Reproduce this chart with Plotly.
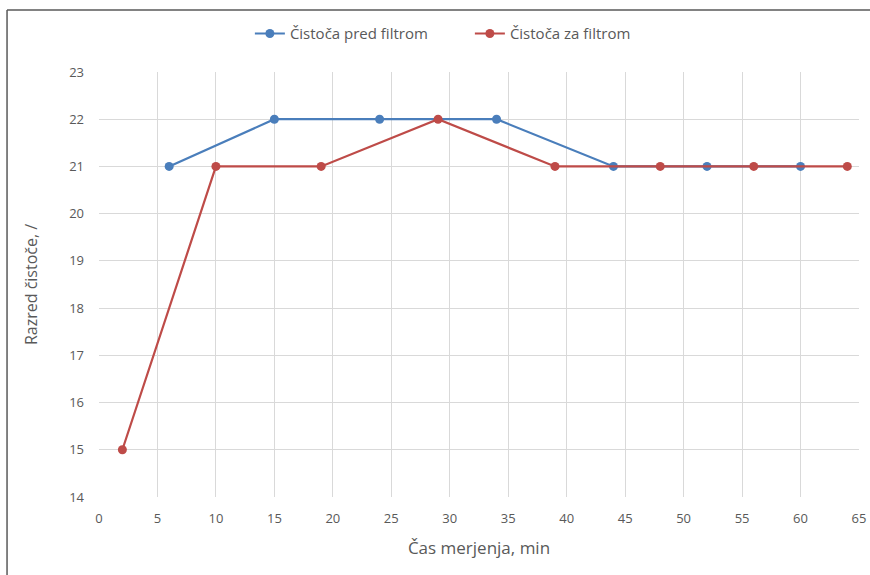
import plotly.graph_objects as go

x_pred = [6, 15, 24, 34, 44, 52, 60]
y_pred = [21, 22, 22, 22, 21, 21, 21]
x_za = [2, 10, 19, 29, 39, 48, 56, 64]
y_za = [15, 21, 21, 22, 21, 21, 21, 21]
name_pred = "Čistoča pred filtrom"
name_za = "Čistoča za filtrom"

blue = "#4A7EBB"
red = "#BE4B48"
font = "Open Sans"

fig = go.Figure()
fig.add_trace(go.Scatter(x=x_pred, y=y_pred, name=name_pred, mode="lines+markers",
                         line=dict(color=blue, width=2.2), marker=dict(size=9, color=blue)))
fig.add_trace(go.Scatter(x=x_za, y=y_za, name=name_za, mode="lines+markers",
                         line=dict(color=red, width=2.2), marker=dict(size=9, color=red)))

fig.update_layout(
    width=870, height=575,
    margin=dict(l=99, r=11, t=72, b=78, autoexpand=False),
    paper_bgcolor="white", plot_bgcolor="white",
    font=dict(family=font, color="#595959", size=13),
    legend=dict(orientation="h", x=0.488, xanchor="center", y=1.09, yanchor="middle",
                font=dict(size=15, color="#595959"), entrywidth=175),
    xaxis=dict(range=[0, 65], dtick=5, tick0=0, showgrid=True, gridcolor="#d9d9d9",
               zeroline=False, showline=False, ticks="", ticklabelstandoff=12,
               automargin=False,
               title=dict(text="Čas merjenja, min", font=dict(size=17, color="#595959"), standoff=16)),
    yaxis=dict(range=[14, 23], dtick=1, showgrid=True, gridcolor="#d9d9d9",
               zeroline=False, showline=False, ticks="", ticklabelstandoff=14,
               automargin=False,
               title=dict(text="Razred čistoče, /", font=dict(size=16, color="#595959"), standoff=27)),
    shapes=[
        dict(type="line", xref="paper", yref="paper", x0=-0.121, x1=1.3, y0=1.146, y1=1.146,
             line=dict(color="#595959", width=1.5)),
        dict(type="line", xref="paper", yref="paper", x0=-0.121, x1=-0.121, y0=-0.4, y1=1.146,
             line=dict(color="#595959", width=1.5)),
    ],
)

fig.write_html("out.html")
